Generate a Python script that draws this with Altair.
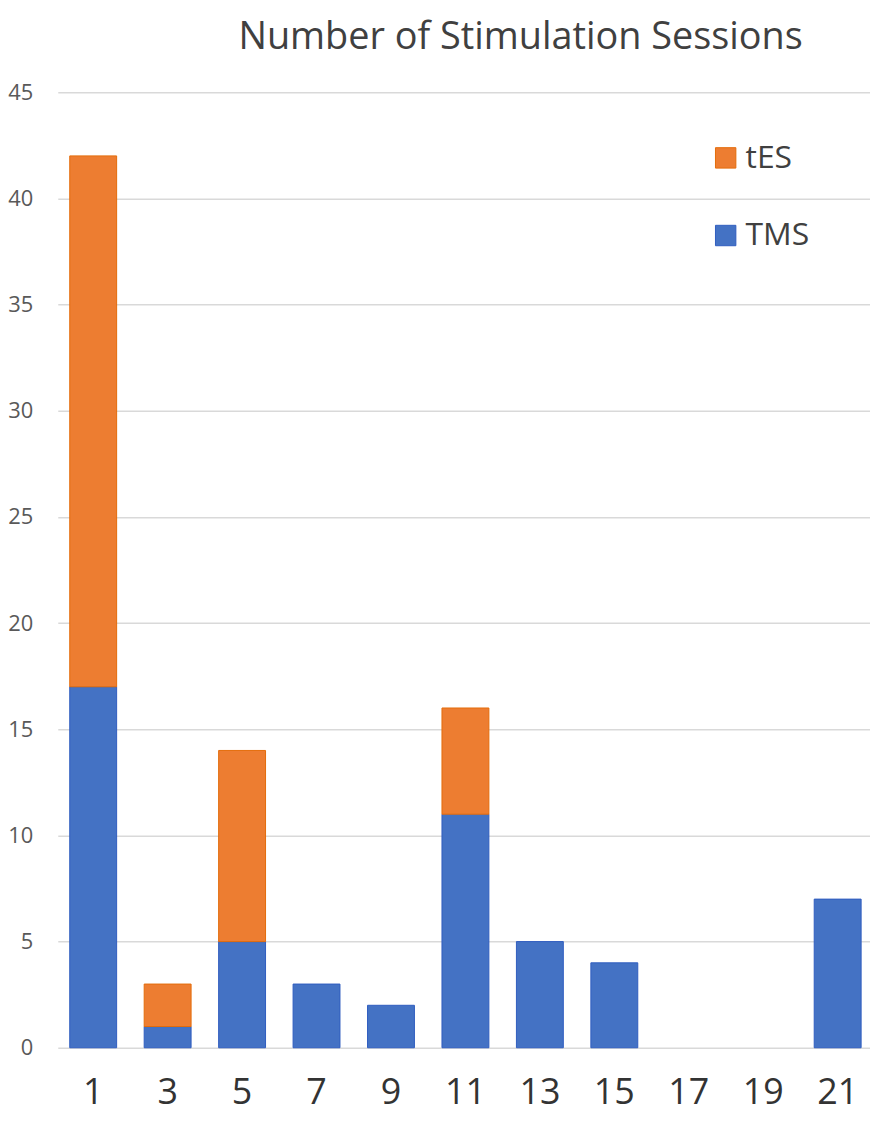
import altair as alt
import pandas as pd

sessions = ["1", "3", "5", "7", "9", "11", "13", "15", "17", "19", "21"]
tms = [17, 1, 5, 3, 2, 11, 5, 4, 0, 0, 7]
tes = [25, 2, 9, 0, 0, 5, 0, 0, 0, 0, 0]

rows = []
for s, a, b in zip(sessions, tms, tes):
    if a > 0:
        rows.append({"sessions": s, "type": "TMS", "count": a, "ord": 0})
    if b > 0:
        rows.append({"sessions": s, "type": "tES", "count": b, "ord": 1})
df = pd.DataFrame(rows)

chart = alt.Chart(df).mark_bar(strokeWidth=1).encode(
    x=alt.X("sessions:N", sort=sessions,
            scale=alt.Scale(domain=sessions, paddingInner=0.37, paddingOuter=0.14, align=0.574),
            axis=alt.Axis(title=None, labelAngle=0, labelFontSize=36, labelColor="#333333",
                          labelFont="Open Sans", labelPadding=28, ticks=False, domain=False,
                          grid=False)),
    y=alt.Y("count:Q", stack="zero",
            scale=alt.Scale(domain=[0, 45], nice=False),
            axis=alt.Axis(title=None, values=list(range(0, 46, 5)), labelFontSize=22,
                          labelColor="#595959", labelFont="Open Sans", labelPadding=25,
                          ticks=False, domain=False, gridColor="#d9d9d9", gridWidth=1.5)),
    color=alt.Color("type:N",
                    scale=alt.Scale(domain=["tES", "TMS"], range=["#ED7D31", "#4472C4"]),
                    legend=alt.Legend(title=None, orient="none", legendX=655, legendY=50,
                                      symbolType="square", symbolSize=420, labelFontSize=32,
                                      labelFont="Open Sans", labelColor="#404040",
                                      rowPadding=46, labelOffset=4, symbolStrokeWidth=1)),
    stroke=alt.Stroke("type:N",
                      scale=alt.Scale(domain=["tES", "TMS"], range=["#E46C0A", "#2F5DC0"]),
                      legend=None),
    order=alt.Order("ord:Q"),
).properties(
    width=816,
    height=960,
    padding={"left": 50, "top": 82, "right": 0, "bottom": 70},
    autosize=alt.AutoSizeParams(type="none"),
    title=alt.TitleParams("Number of Stimulation Sessions", fontSize=38, font="Open Sans",
                          fontWeight="normal", color="#404040", anchor="middle", dx=57,
                          offset=24),
).configure_view(stroke=None)

chart.save("out.html", embed_options={"renderer": "svg", "actions": False})
